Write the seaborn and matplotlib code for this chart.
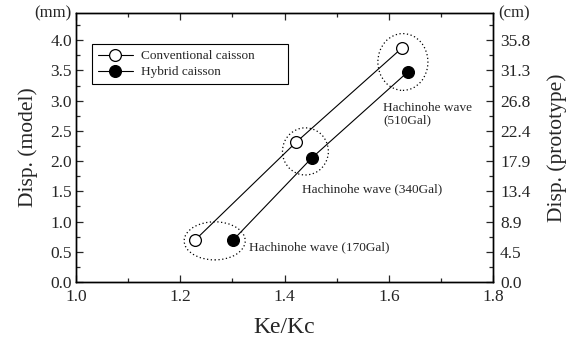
import matplotlib
matplotlib.use("Agg")
import matplotlib.pyplot as plt
import seaborn as sns
import pandas as pd
from matplotlib.patches import Ellipse
from matplotlib.ticker import MultipleLocator

# data
conv_x = [1.228, 1.422, 1.625]
conv_y = [0.69, 2.31, 3.87]
hyb_x = [1.301, 1.452, 1.637]
hyb_y = [0.69, 2.05, 3.48]
left_ticks = [0.0, 0.5, 1.0, 1.5, 2.0, 2.5, 3.0, 3.5, 4.0]
right_labels = ["0.0", "4.5", "8.9", "13.4", "17.9", "22.4", "26.8", "31.3", "35.8"]
wave_labels = ["Hachinohe wave (170Gal)", "Hachinohe wave (340Gal)", "Hachinohe wave\n(510Gal)"]

sns.set_theme(style="ticks")
plt.rcParams['font.family'] = ['Liberation Serif', 'DejaVu Serif']

fig = plt.figure(figsize=(5.69, 3.43), dpi=100)
ax = fig.add_axes([0.1336, 0.178, 0.733, 0.784])

df_c = pd.DataFrame({"x": conv_x, "y": conv_y})
df_h = pd.DataFrame({"x": hyb_x, "y": hyb_y})
sns.lineplot(data=df_c, x="x", y="y", ax=ax, sort=False, color="black", lw=0.8,
             marker="o", markersize=8.5, markerfacecolor="white", markeredgecolor="black",
             markeredgewidth=0.9, label="Conventional caisson")
sns.lineplot(data=df_h, x="x", y="y", ax=ax, sort=False, color="black", lw=0.8,
             marker="o", markersize=8.5, markerfacecolor="black", markeredgecolor="black",
             markeredgewidth=0.9, label="Hybrid caisson")

# dotted ellipses
for (cx, cy, w, h) in [(1.266, 0.68, 0.117, 0.63), (1.44, 2.16, 0.088, 0.78), (1.627, 3.64, 0.096, 0.94)]:
    ax.add_patch(Ellipse((cx, cy), w, h, fill=False, ls=(0, (1, 2)), lw=0.9, ec="black"))

ax.text(1.331, 0.58, wave_labels[0], fontsize=9.5, va="center", ha="left")
ax.text(1.433, 1.54, wave_labels[1], fontsize=9.5, va="center", ha="left")
ax.text(1.589, 2.78, wave_labels[2], fontsize=9.5, va="center", ha="left", linespacing=1.1)

ax.set_xlim(1.0, 1.8)
ax.set_ylim(0, 4.45)
ax.set_xticks([1.0, 1.2, 1.4, 1.6, 1.8])
ax.set_xticklabels(["1.0", "1.2", "1.4", "1.6", "1.8"])
ax.xaxis.set_minor_locator(MultipleLocator(0.1))
ax.set_yticks(left_ticks)
ax.set_yticklabels([f"{v:.1f}" for v in left_ticks])
ax.yaxis.set_minor_locator(MultipleLocator(0.25))
ax.tick_params(which="both", direction="in", top=True, labelsize=12.5, width=0.9)
ax.tick_params(which="major", length=5)
ax.tick_params(which="minor", length=3)
ax.tick_params(axis="x", pad=5)
ax.tick_params(axis="y", pad=3)
for s in ax.spines.values():
    s.set_linewidth(1.0)
    s.set_color("black")
ax.set_xlabel("Ke/Kc", fontsize=17, labelpad=9)
ax.set_ylabel("Disp. (model)", fontsize=15.5, labelpad=9)
ax.text(-0.012, 1.0, "(mm)", transform=ax.transAxes, ha="right", va="center", fontsize=12)

ax2 = ax.twinx()
ax2.set_ylim(0, 4.45)
ax2.set_yticks(left_ticks)
ax2.set_yticklabels(right_labels)
ax2.yaxis.set_minor_locator(MultipleLocator(0.25))
ax2.tick_params(which="both", direction="in", labelsize=12.5, width=0.9, pad=5)
ax2.tick_params(which="major", length=5)
ax2.tick_params(which="minor", length=3)
ax2.set_ylabel("Disp. (prototype)", fontsize=15.5, labelpad=12)
ax2.text(1.012, 1.0, "(cm)", transform=ax.transAxes, ha="left", va="center", fontsize=12)
for s in ax2.spines.values():
    s.set_linewidth(1.0)
    s.set_color("black")

leg = ax.legend(loc="upper left", bbox_to_anchor=(0.038, 0.885, 0.47, 0.0), mode="expand",
                borderaxespad=0, fontsize=9.5, frameon=True,
                fancybox=False, edgecolor="black", framealpha=1, borderpad=0.45,
                handlelength=2.65, handletextpad=0.6, labelspacing=0.3)
leg.get_frame().set_linewidth(0.8)

fig.savefig("out.png", dpi=100)
